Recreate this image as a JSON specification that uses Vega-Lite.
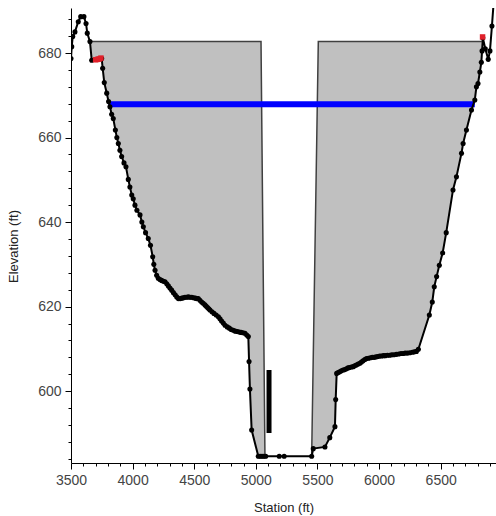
{
  "$schema": "https://vega.github.io/schema/vega-lite/v6.json",
  "width": 425,
  "height": 455,
  "autosize": "none",
  "padding": {"left": 71, "top": 8, "right": 0, "bottom": 53},
  "background": "white",
  "config": {
    "view": {"stroke": null},
    "font": "Liberation Sans",
    "axis": {"grid": false, "domainColor": "#000", "tickColor": "#000", "labelColor": "#444", "titleColor": "#222", "labelFont": "Liberation Sans", "titleFont": "Liberation Sans", "labelFontSize": 14, "titleFontSize": 13, "titleFontWeight": "normal", "labelFlush": false}
  },
  "resolve": {"axis": {"x": "independent", "y": "independent"}},
  "datasets": {
    "ground": [
      {"station": 3500, "elev": 678.7}, {"station": 3506, "elev": 681.5}, {"station": 3514, "elev": 683.9},
      {"station": 3532, "elev": 685.0}, {"station": 3559, "elev": 687.4}, {"station": 3579, "elev": 688.6},
      {"station": 3605, "elev": 688.6}, {"station": 3622, "elev": 687.0}, {"station": 3632, "elev": 684.7},
      {"station": 3654, "elev": 682.7}, {"station": 3668, "elev": 678.3}, {"station": 3708, "elev": 678.5},
      {"station": 3730, "elev": 678.6}, {"station": 3749, "elev": 678.7}, {"station": 3757, "elev": 676.4},
      {"station": 3770, "elev": 673.0}, {"station": 3790, "elev": 670.5}, {"station": 3805, "elev": 668.5},
      {"station": 3816, "elev": 667.3}, {"station": 3830, "elev": 665.5}, {"station": 3843, "elev": 664.5},
      {"station": 3860, "elev": 661.8}, {"station": 3872, "elev": 660.0}, {"station": 3884, "elev": 658.6},
      {"station": 3897, "elev": 657.0}, {"station": 3911, "elev": 655.5}, {"station": 3930, "elev": 654.0},
      {"station": 3946, "elev": 653.1}, {"station": 3965, "elev": 650.1}, {"station": 3978, "elev": 648.3},
      {"station": 3993, "elev": 646.4}, {"station": 4005, "elev": 645.5}, {"station": 4019, "elev": 644.0},
      {"station": 4035, "elev": 642.8}, {"station": 4060, "elev": 641.7}, {"station": 4075, "elev": 640.0},
      {"station": 4087, "elev": 638.9}, {"station": 4105, "elev": 637.5}, {"station": 4127, "elev": 636.1},
      {"station": 4145, "elev": 634.5}, {"station": 4163, "elev": 631.8}, {"station": 4172, "elev": 630.0},
      {"station": 4182, "elev": 628.6}, {"station": 4195, "elev": 627.4}, {"station": 4208, "elev": 626.7},
      {"station": 4222, "elev": 626.4}, {"station": 4235, "elev": 626.2}, {"station": 4250, "elev": 626.0},
      {"station": 4263, "elev": 625.9}, {"station": 4277, "elev": 625.4}, {"station": 4290, "elev": 624.9},
      {"station": 4303, "elev": 624.4}, {"station": 4317, "elev": 623.9}, {"station": 4331, "elev": 623.3},
      {"station": 4345, "elev": 622.8}, {"station": 4358, "elev": 622.3}, {"station": 4371, "elev": 621.9},
      {"station": 4386, "elev": 621.9}, {"station": 4400, "elev": 622.0}, {"station": 4412, "elev": 622.1},
      {"station": 4425, "elev": 622.2}, {"station": 4438, "elev": 622.2}, {"station": 4452, "elev": 622.3},
      {"station": 4466, "elev": 622.2}, {"station": 4480, "elev": 622.2}, {"station": 4495, "elev": 622.1},
      {"station": 4510, "elev": 622.0}, {"station": 4520, "elev": 621.9}, {"station": 4533, "elev": 621.9},
      {"station": 4546, "elev": 621.5}, {"station": 4560, "elev": 621.1}, {"station": 4573, "elev": 620.8},
      {"station": 4587, "elev": 620.4}, {"station": 4598, "elev": 620.1}, {"station": 4608, "elev": 619.8},
      {"station": 4618, "elev": 619.5}, {"station": 4628, "elev": 619.2}, {"station": 4644, "elev": 618.8},
      {"station": 4660, "elev": 618.4}, {"station": 4678, "elev": 618.0}, {"station": 4696, "elev": 617.6},
      {"station": 4709, "elev": 617.1}, {"station": 4722, "elev": 616.6}, {"station": 4736, "elev": 616.1},
      {"station": 4750, "elev": 615.6}, {"station": 4768, "elev": 615.2}, {"station": 4785, "elev": 614.9},
      {"station": 4800, "elev": 614.6}, {"station": 4817, "elev": 614.4}, {"station": 4833, "elev": 614.2},
      {"station": 4850, "elev": 614.1}, {"station": 4865, "elev": 614.0}, {"station": 4880, "elev": 613.9},
      {"station": 4896, "elev": 613.8}, {"station": 4912, "elev": 613.7}, {"station": 4926, "elev": 613.3},
      {"station": 4939, "elev": 612.9}, {"station": 4945, "elev": 607.0},
      {"station": 4952, "elev": 600.5}, {"station": 4966, "elev": 590.8}, {"station": 5020, "elev": 584.6},
      {"station": 5035, "elev": 584.6}, {"station": 5050, "elev": 584.6}, {"station": 5065, "elev": 584.6},
      {"station": 5080, "elev": 584.6}, {"station": 5190, "elev": 584.6}, {"station": 5230, "elev": 584.6},
      {"station": 5453, "elev": 584.6}, {"station": 5466, "elev": 586.4}, {"station": 5561, "elev": 586.8},
      {"station": 5600, "elev": 589.0}, {"station": 5642, "elev": 591.6}, {"station": 5648, "elev": 598.0},
      {"station": 5656, "elev": 604.2}, {"station": 5668, "elev": 604.4}, {"station": 5680, "elev": 604.6},
      {"station": 5694, "elev": 604.8}, {"station": 5708, "elev": 605.0}, {"station": 5722, "elev": 605.1},
      {"station": 5735, "elev": 605.3}, {"station": 5748, "elev": 605.5}, {"station": 5760, "elev": 605.6},
      {"station": 5775, "elev": 605.7}, {"station": 5790, "elev": 605.8}, {"station": 5802, "elev": 606.0},
      {"station": 5815, "elev": 606.2}, {"station": 5830, "elev": 606.4}, {"station": 5844, "elev": 606.6},
      {"station": 5857, "elev": 606.9}, {"station": 5870, "elev": 607.2}, {"station": 5884, "elev": 607.5},
      {"station": 5898, "elev": 607.7}, {"station": 5914, "elev": 607.8}, {"station": 5930, "elev": 607.9},
      {"station": 5945, "elev": 608.0}, {"station": 5960, "elev": 608.0}, {"station": 5975, "elev": 608.1},
      {"station": 5990, "elev": 608.2}, {"station": 6005, "elev": 608.3}, {"station": 6020, "elev": 608.3},
      {"station": 6035, "elev": 608.4}, {"station": 6050, "elev": 608.4}, {"station": 6068, "elev": 608.5},
      {"station": 6087, "elev": 608.5}, {"station": 6103, "elev": 608.6}, {"station": 6120, "elev": 608.6},
      {"station": 6140, "elev": 608.7}, {"station": 6160, "elev": 608.8}, {"station": 6178, "elev": 608.9},
      {"station": 6195, "elev": 608.9}, {"station": 6212, "elev": 609.0}, {"station": 6230, "elev": 609.0},
      {"station": 6250, "elev": 609.1}, {"station": 6270, "elev": 609.2}, {"station": 6286, "elev": 609.3},
      {"station": 6303, "elev": 609.4}, {"station": 6319, "elev": 609.9}, {"station": 6408, "elev": 618.0},
      {"station": 6432, "elev": 621.1}, {"station": 6448, "elev": 624.7}, {"station": 6467, "elev": 627.1},
      {"station": 6489, "elev": 629.8}, {"station": 6516, "elev": 632.7}, {"station": 6545, "elev": 637.5},
      {"station": 6600, "elev": 647.6}, {"station": 6628, "elev": 650.7}, {"station": 6669, "elev": 656.3},
      {"station": 6682, "elev": 658.6}, {"station": 6709, "elev": 661.8}, {"station": 6750, "elev": 666.5},
      {"station": 6777, "elev": 668.9}, {"station": 6790, "elev": 672.0}, {"station": 6803, "elev": 672.8},
      {"station": 6818, "elev": 675.5}, {"station": 6830, "elev": 677.8}, {"station": 6836, "elev": 680.5},
      {"station": 6842, "elev": 683.6}, {"station": 6862, "elev": 681.0}, {"station": 6886, "elev": 678.5},
      {"station": 6900, "elev": 680.5}, {"station": 6916, "elev": 686.4}, {"station": 6930, "elev": 692.0}
    ],
    "leftfill": [
      {"station": 3654, "lo": 682.7, "hi": 682.7}, {"station": 3668, "lo": 678.3, "hi": 682.7},
      {"station": 3749, "lo": 678.7, "hi": 682.7}, {"station": 3757, "lo": 676.4, "hi": 682.7},
      {"station": 3770, "lo": 673.0, "hi": 682.7}, {"station": 3790, "lo": 670.5, "hi": 682.7},
      {"station": 3816, "lo": 667.3, "hi": 682.7}, {"station": 3843, "lo": 664.5, "hi": 682.7},
      {"station": 3872, "lo": 660.0, "hi": 682.7}, {"station": 3911, "lo": 655.5, "hi": 682.7},
      {"station": 3946, "lo": 653.1, "hi": 682.7}, {"station": 3965, "lo": 650.1, "hi": 682.7},
      {"station": 3993, "lo": 646.4, "hi": 682.7}, {"station": 4019, "lo": 644.0, "hi": 682.7},
      {"station": 4060, "lo": 641.7, "hi": 682.7}, {"station": 4087, "lo": 638.9, "hi": 682.7},
      {"station": 4127, "lo": 636.1, "hi": 682.7}, {"station": 4163, "lo": 631.8, "hi": 682.7},
      {"station": 4182, "lo": 628.6, "hi": 682.7}, {"station": 4208, "lo": 626.7, "hi": 682.7},
      {"station": 4263, "lo": 625.9, "hi": 682.7}, {"station": 4317, "lo": 623.9, "hi": 682.7},
      {"station": 4371, "lo": 621.9, "hi": 682.7}, {"station": 4452, "lo": 622.3, "hi": 682.7},
      {"station": 4533, "lo": 621.9, "hi": 682.7}, {"station": 4587, "lo": 620.4, "hi": 682.7},
      {"station": 4628, "lo": 619.2, "hi": 682.7}, {"station": 4696, "lo": 617.6, "hi": 682.7},
      {"station": 4750, "lo": 615.6, "hi": 682.7}, {"station": 4817, "lo": 614.4, "hi": 682.7},
      {"station": 4912, "lo": 613.7, "hi": 682.7}, {"station": 4939, "lo": 612.9, "hi": 682.7},
      {"station": 4945, "lo": 607.0, "hi": 682.7}, {"station": 4952, "lo": 600.5, "hi": 682.7},
      {"station": 4966, "lo": 590.8, "hi": 682.7}, {"station": 5020, "lo": 584.6, "hi": 682.7},
      {"station": 5042, "lo": 584.6, "hi": 682.7}, {"station": 5074, "lo": 584.6, "hi": 584.6}
    ],
    "rightfill": [
      {"station": 5453, "lo": 584.6, "hi": 584.6}, {"station": 5466, "lo": 586.4, "hi": 608.2},
      {"station": 5507, "lo": 586.7, "hi": 682.7}, {"station": 5561, "lo": 586.8, "hi": 682.7},
      {"station": 5600, "lo": 589.0, "hi": 682.7}, {"station": 5642, "lo": 591.6, "hi": 682.7},
      {"station": 5648, "lo": 598.0, "hi": 682.7}, {"station": 5656, "lo": 604.2, "hi": 682.7},
      {"station": 5708, "lo": 605.0, "hi": 682.7}, {"station": 5790, "lo": 605.8, "hi": 682.7},
      {"station": 5844, "lo": 606.6, "hi": 682.7}, {"station": 5898, "lo": 607.7, "hi": 682.7},
      {"station": 5990, "lo": 608.2, "hi": 682.7}, {"station": 6087, "lo": 608.5, "hi": 682.7},
      {"station": 6195, "lo": 608.9, "hi": 682.7}, {"station": 6303, "lo": 609.4, "hi": 682.7},
      {"station": 6319, "lo": 609.9, "hi": 682.7}, {"station": 6408, "lo": 618.0, "hi": 682.7},
      {"station": 6432, "lo": 621.1, "hi": 682.7}, {"station": 6448, "lo": 624.7, "hi": 682.7},
      {"station": 6489, "lo": 629.8, "hi": 682.7}, {"station": 6516, "lo": 632.7, "hi": 682.7},
      {"station": 6545, "lo": 637.5, "hi": 682.7}, {"station": 6600, "lo": 647.6, "hi": 682.7},
      {"station": 6669, "lo": 656.3, "hi": 682.7}, {"station": 6709, "lo": 661.8, "hi": 682.7},
      {"station": 6750, "lo": 666.5, "hi": 682.7}, {"station": 6777, "lo": 668.9, "hi": 682.7},
      {"station": 6790, "lo": 672.0, "hi": 682.7}, {"station": 6803, "lo": 672.8, "hi": 682.7},
      {"station": 6818, "lo": 675.5, "hi": 682.7}, {"station": 6830, "lo": 677.8, "hi": 682.7},
      {"station": 6834, "lo": 682.7, "hi": 682.7}
    ],
    "outline": [
      {"part": "L", "station": 3654, "elev": 682.7}, {"part": "L", "station": 5042, "elev": 682.7},
      {"part": "L", "station": 5074, "elev": 584.6},
      {"part": "R", "station": 5453, "elev": 584.6}, {"part": "R", "station": 5507, "elev": 682.7},
      {"part": "R", "station": 6834, "elev": 682.7}
    ],
    "banks": [
      {"station": 3700, "elev": 678.4}, {"station": 3716, "elev": 678.5}, {"station": 3730, "elev": 678.6},
      {"station": 3743, "elev": 678.8}, {"station": 6840, "elev": 683.8}
    ]
  },
  "layer": [
    {
      "data": {"name": "leftfill"},
      "mark": {"type": "area", "color": "#c0c0c0", "opacity": 1},
      "encoding": {
        "x": {"field": "station", "type": "quantitative", "scale": {"domain": [3500, 6949], "nice": false, "zero": false},
          "axis": {"title": "Station (ft)", "orient": "bottom", "values": [3500, 4000, 4500, 5000, 5500, 6000, 6500],
            "format": "d", "labelOverlap": false, "tickSize": 6,
            "labelPadding": 4, "titleY": 38, "titleBaseline": "top"}},
        "y": {"field": "lo", "type": "quantitative", "scale": {"domain": [583, 690.65], "nice": false, "zero": false},
          "axis": {"title": "Elevation (ft)", "orient": "left", "values": [600, 620, 640, 660, 680],
            "format": "d", "labelOverlap": false, "tickSize": 6,
            "labelPadding": 4, "titleX": -58, "titleY": 238, "titleAngle": -90, "titleBaseline": "middle", "titleAlign": "center"}},
        "y2": {"field": "hi"}
      }
    },
    {
      "data": {"name": "rightfill"},
      "mark": {"type": "area", "color": "#c0c0c0", "opacity": 1},
      "encoding": {
        "x": {"field": "station", "type": "quantitative", "axis": null},
        "y": {"field": "lo", "type": "quantitative", "axis": null},
        "y2": {"field": "hi"}
      }
    },
    {
      "data": {"name": "outline"},
      "mark": {"type": "line", "color": "#404040", "strokeWidth": 1.5},
      "encoding": {
        "x": {"field": "station", "type": "quantitative", "axis": null},
        "y": {"field": "elev", "type": "quantitative", "axis": null},
        "detail": {"field": "part"}
      }
    },
    {
      "data": {"values": [{"x1": 3803, "x2": 6777, "wse": 667.9}]},
      "mark": {"type": "rule", "color": "#0000ff", "strokeWidth": 6},
      "encoding": {
        "x": {"field": "x1", "type": "quantitative",
          "axis": {"title": null, "orient": "bottom", "domain": false, "labels": false, "tickSize": 3,
            "values": [3600,3700,3800,3900,4100,4200,4300,4400,4600,4700,4800,4900,5100,5200,5300,5400,5600,5700,5800,5900,6100,6200,6300,6400,6600,6700,6800,6900]}},
        "x2": {"field": "x2"},
        "y": {"field": "wse", "type": "quantitative",
          "axis": {"title": null, "orient": "left", "domain": false, "labels": false, "tickSize": 3,
            "values": [584,588,592,596,604,608,612,616,624,628,632,636,644,648,652,656,664,668,672,676,684,688]}}
      }
    },
    {
      "data": {"values": [{"station": 5107, "bot": 590.1, "top": 605.0}]},
      "mark": {"type": "rule", "color": "#000", "strokeWidth": 5},
      "encoding": {
        "x": {"field": "station", "type": "quantitative", "axis": null},
        "y": {"field": "bot", "type": "quantitative", "axis": null},
        "y2": {"field": "top"}
      }
    },
    {
      "data": {"name": "ground"},
      "mark": {"type": "line", "color": "#000", "strokeWidth": 2, "clip": true},
      "encoding": {
        "x": {"field": "station", "type": "quantitative", "axis": null},
        "y": {"field": "elev", "type": "quantitative", "axis": null}
      }
    },
    {
      "data": {"name": "ground"},
      "mark": {"type": "point", "shape": "circle", "filled": true, "color": "#000", "size": 26, "opacity": 1, "clip": true},
      "encoding": {
        "x": {"field": "station", "type": "quantitative", "axis": null},
        "y": {"field": "elev", "type": "quantitative", "axis": null}
      }
    },
    {
      "data": {"name": "banks"},
      "mark": {"type": "square", "filled": true, "color": "#e0202a", "size": 30, "opacity": 1},
      "encoding": {
        "x": {"field": "station", "type": "quantitative", "axis": null},
        "y": {"field": "elev", "type": "quantitative", "axis": null}
      }
    }
  ]
}
